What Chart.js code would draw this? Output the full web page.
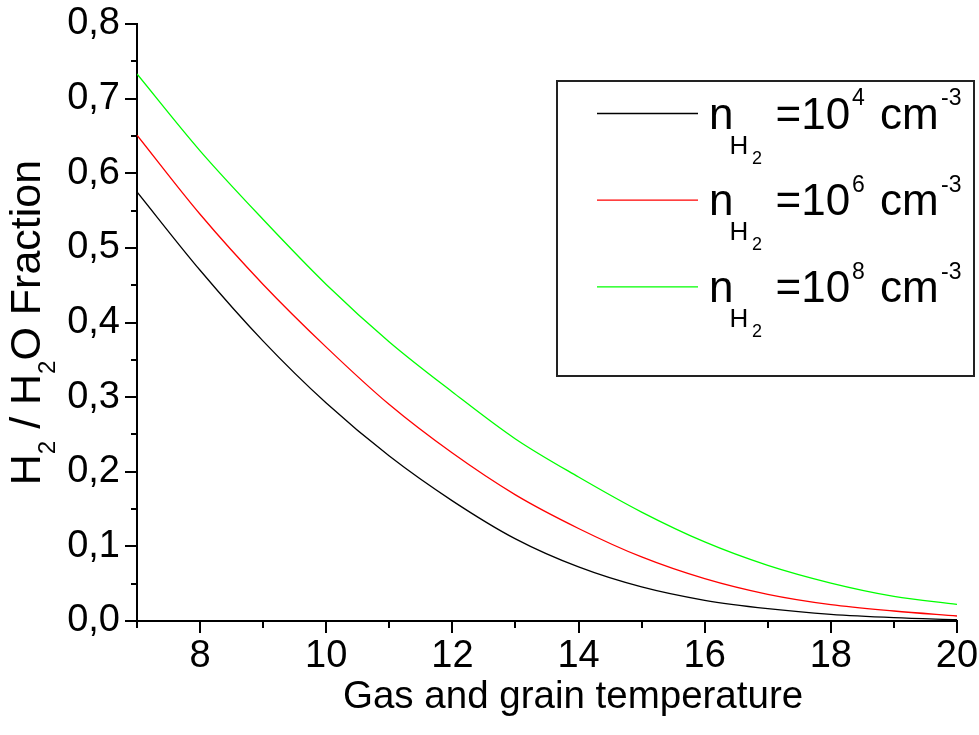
<!DOCTYPE html>
<html>
<head>
<meta charset="utf-8">
<script src="https://cdn.jsdelivr.net/npm/chart.js@4/dist/chart.umd.min.js"></script>
<style>
html,body{margin:0;padding:0;background:#ffffff;}
#wrap{width:979px;height:735px;position:relative;}
</style>
</head>
<body>
<div id="wrap"><canvas id="c" width="979" height="735"></canvas></div>
<script>
// ---- data ----
const temperatures = [7, 8, 9, 10, 11, 12, 13, 14, 15, 16, 17, 18, 19, 20];
const fractionN4 = [0.575, 0.470, 0.375, 0.292, 0.221, 0.161, 0.110, 0.0724, 0.0456, 0.0277, 0.0165, 0.0089, 0.0045, 0.0018];
const fractionN6 = [0.651, 0.545, 0.451, 0.367, 0.290, 0.225, 0.169, 0.124, 0.0858, 0.0567, 0.0357, 0.0219, 0.0134, 0.0067];
const fractionN8 = [0.733, 0.630, 0.538, 0.451, 0.374, 0.307, 0.244, 0.193, 0.146, 0.106, 0.0746, 0.0509, 0.0331, 0.0223];
const densityExponents = ['4', '6', '8'];
const seriesColors = ['#000000', '#ff0000', '#00ff00'];
const xTickLabels = ['8', '10', '12', '14', '16', '18', '20'];
const yTickLabels = ['0,0', '0,1', '0,2', '0,3', '0,4', '0,5', '0,6', '0,7', '0,8'];
const xTitle = 'Gas and grain temperature';
const yTitleParts = [['H', 0], ['2', 1], [' / ', 0], ['H', 0], ['2', 1], ['O Fraction', 0]];

const FAMILY = '"Liberation Sans", Arial, Helvetica, sans-serif';
const seriesValues = [fractionN4, fractionN6, fractionN8];

const datasets = seriesValues.map((vals, i) => ({
  label: 'n_H2 = 10^' + densityExponents[i] + ' cm^-3',
  data: temperatures.map((t, k) => ({x: t, y: vals[k]})),
  borderColor: seriesColors[i],
  backgroundColor: seriesColors[i],
  borderWidth: 1.3,
  pointRadius: 0,
  fill: false,
  cubicInterpolationMode: 'monotone'
}));

function noPad(s) {
  s.paddingTop = 0; s.paddingBottom = 0; s.paddingLeft = 0; s.paddingRight = 0;
}

const decorPlugin = {
  id: 'decor',
  afterDraw(chart) {
    const ctx = chart.ctx;
    const xs = chart.scales.x, ys = chart.scales.y, ca = chart.chartArea;
    ctx.save();
    // tick marks (major / minor)
    ctx.strokeStyle = '#000';
    ctx.lineWidth = 2;
    ctx.beginPath();
    xs.ticks.forEach(t => {
      const px = Math.round(xs.getPixelForValue(t.value));
      const major = xTickLabels.includes(String(t.value));
      ctx.moveTo(px, ca.bottom);
      ctx.lineTo(px, ca.bottom + (major ? 12 : 7));
    });
    ys.ticks.forEach(t => {
      const py = Math.round(ys.getPixelForValue(t.value));
      const major = Math.round(t.value * 100) % 10 === 0;
      ctx.moveTo(ca.left, py);
      ctx.lineTo(ca.left - (major ? 12 : 6), py);
    });
    ctx.stroke();

    ctx.fillStyle = '#000';
    ctx.textBaseline = 'alphabetic';
    // x title
    ctx.font = '38.5px ' + FAMILY;
    ctx.textAlign = 'left';
    ctx.fillText(xTitle, 343, 708);

    // y title (rotated, with subscripts)
    ctx.save();
    ctx.translate(40, 0);
    ctx.rotate(-Math.PI / 2);
    const mainSize = 43, subSize = 24;
    let total = 0;
    yTitleParts.forEach(([s, sub]) => {
      ctx.font = (sub ? subSize : mainSize) + 'px ' + FAMILY;
      total += ctx.measureText(s).width;
    });
    let u = -(ca.top + ca.bottom) / 2 - total / 2;
    yTitleParts.forEach(([s, sub]) => {
      ctx.font = (sub ? subSize : mainSize) + 'px ' + FAMILY;
      ctx.fillText(s, u, sub ? 15 : 0);
      u += ctx.measureText(s).width;
    });
    ctx.restore();

    // legend box
    ctx.fillStyle = '#ffffff';
    ctx.fillRect(557, 81, 417, 295);
    ctx.strokeStyle = '#222';
    ctx.lineWidth = 2;
    ctx.strokeRect(557, 81, 417, 295);
    ctx.fillStyle = '#000';
    densityExponents.forEach((ex, i) => {
      const ly = 113.5 + i * 86.7;
      ctx.strokeStyle = chart.data.datasets[i].borderColor;
      ctx.lineWidth = 1.3;
      ctx.beginPath();
      ctx.moveTo(597, ly);
      ctx.lineTo(698, ly);
      ctx.stroke();
      ctx.font = '44px ' + FAMILY;
      ctx.fillText('n', 709, ly + 15);
      ctx.font = '26px ' + FAMILY;
      ctx.fillText('H', 729.5, ly + 40);
      ctx.font = '18px ' + FAMILY;
      ctx.fillText('2', 752, ly + 50);
      ctx.font = '44px ' + FAMILY;
      ctx.fillText('=10', 775.5, ly + 15);
      ctx.font = '23px ' + FAMILY;
      ctx.fillText(ex, 852, ly - 8.3);
      ctx.font = '44px ' + FAMILY;
      ctx.fillText('cm', 880, ly + 15);
      ctx.font = '23px ' + FAMILY;
      ctx.fillText('-3', 941, ly - 8.3);
    });
    ctx.restore();
  }
};

new Chart(document.getElementById('c'), {
  type: 'line',
  data: {datasets},
  options: {
    responsive: false,
    animation: false,
    devicePixelRatio: 1,
    layout: {padding: {top: 24, right: 22, left: 0, bottom: 0}},
    plugins: {legend: {display: false}, tooltip: {enabled: false}, title: {display: false}},
    scales: {
      x: {
        type: 'linear', min: 7, max: 20,
        afterFit(s) { s.height = 114; noPad(s); },
        grid: {display: false, drawOnChartArea: false, drawTicks: false},
        border: {display: true, color: '#000', width: 2},
        ticks: {
          stepSize: 1, autoSkip: false, maxRotation: 0, minRotation: 0, padding: 13,
          color: '#000', font: {family: FAMILY, size: 38},
          callback(v) { return xTickLabels.includes(String(v)) ? String(v) : ''; }
        }
      },
      y: {
        type: 'linear', min: 0, max: 0.8,
        afterFit(s) { s.width = 137; noPad(s); },
        grid: {display: false, drawOnChartArea: false, drawTicks: false},
        border: {display: true, color: '#000', width: 2},
        ticks: {
          stepSize: 0.05, autoSkip: false, padding: 17,
          color: '#000', font: {family: FAMILY, size: 38},
          callback(v) {
            const k = Math.round(v * 100);
            return k % 10 === 0 ? yTickLabels[k / 10] : '';
          }
        }
      }
    }
  },
  plugins: [decorPlugin]
});
</script>
</body>
</html>
